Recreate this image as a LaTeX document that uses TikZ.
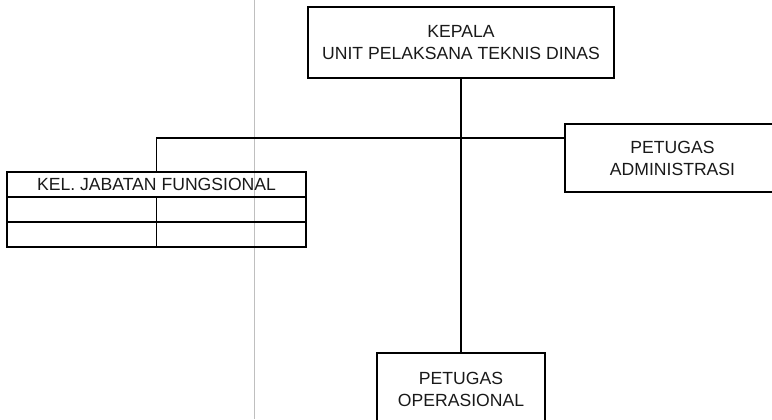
\documentclass[tikz,border=0pt]{standalone}
\usepackage{fontspec}
\setmainfont{Liberation Sans}
\usetikzlibrary{positioning,calc}
\begin{document}
\begin{tikzpicture}[x=0.5pt, y=-0.5pt,
    box/.style={draw, line width=0.9pt, align=center, text=black!90,
        font=\fontsize{8.8}{11}\selectfont, inner sep=0pt, outer sep=0pt},
    cell/.style={draw, line width=0.9pt, minimum width=74.75pt,
        minimum height=12.5pt, inner sep=0pt, outer sep=0pt},
    link/.style={line width=0.9pt}]
    \useasboundingbox (0,0) rectangle (772,419);

    % Fold line of the scanned page
    \draw[gray!50, line width=0.5pt] (254,0) -- (254,419);

    % Head of the unit
    \node[box, minimum width=153pt, minimum height=35.5pt] (kepala) at (461,42.5)
        {KEPALA\\UNIT PELAKSANA TEKNIS DINAS};

    % Administration staff (box runs off the right edge)
    \node[box, minimum width=107.5pt, minimum height=34pt] (admin) at (672.5,158)
        {PETUGAS\\ADMINISTRASI};

    % Operational staff (box runs off the bottom edge)
    \node[box, minimum width=84pt, minimum height=36pt] (ops) at (461,389)
        {PETUGAS\\OPERASIONAL};

    % Functional group table
    \node[box, minimum width=149.5pt, minimum height=12.5pt] (fungsi) at (156.5,184.5)
        {KEL. JABATAN FUNGSIONAL};
    \node[cell, anchor=north west] (rowAa) at (fungsi.south west) {};
    \node[cell, anchor=north east] (rowAb) at (fungsi.south east) {};
    \node[cell, anchor=north west] (rowBa) at (rowAa.south west) {};
    \node[cell, anchor=north east] (rowBb) at (rowAb.south east) {};

    % Connectors
    \draw[link] (kepala.south) -- (ops.north);
    \draw[link] (fungsi.north) |- ($(admin.north west)!0.2!(admin.south west)$);
\end{tikzpicture}
\end{document}
